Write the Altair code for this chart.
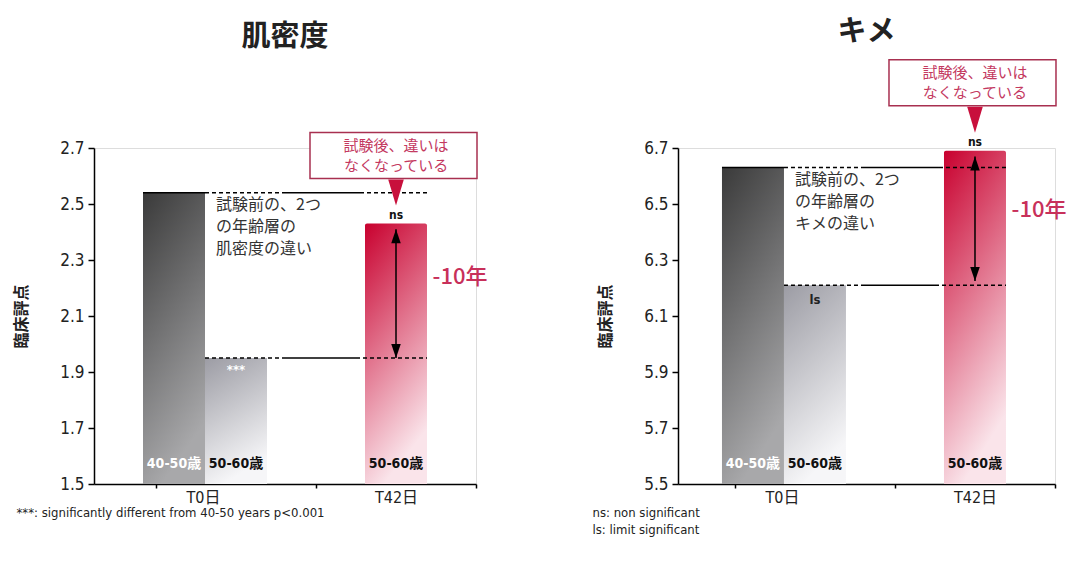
import altair as alt
import pandas as pd

# ---------------- data ----------------
panel_titles = ["肌密度", "キメ"]
days = ["T0日", "T0日", "T42日"]
ages = ["40-50歳", "50-60歳", "50-60歳"]
density_scores = [2.54, 1.95, 2.43]
texture_scores = [6.63, 6.21, 6.69]
density_marks = ["", "***", "ns"]
texture_marks = ["", "ls", "ns"]
density_ticks = [1.5, 1.7, 1.9, 2.1, 2.3, 2.5, 2.7]
texture_ticks = [5.5, 5.7, 5.9, 6.1, 6.3, 6.5, 6.7]
density_arrow = [2.41, 1.95]
texture_arrow = [6.67, 6.225]
density_years_y = 2.24
texture_years_y = 6.48
y_title = "臨床評点"
years_label = "-10年"
density_note = ["試験前の、2つ", "の年齢層の", "肌密度の違い"]
texture_note = ["試験前の、2つ", "の年齢層の", "キメの違い"]
callout_lines = ["試験後、違いは", "なくなっている"]
density_foot = ["***: significantly different from 40-50 years p<0.001"]
texture_foot = ["ns:  non significant", "ls:  limit significant"]

# ---------------- style ----------------
NARROW = "'Liberation Sans Narrow', 'DejaVu Sans Condensed', 'Liberation Sans', 'Noto Sans CJK JP', sans-serif"
CJK = "'Noto Sans CJK JP', sans-serif"
CRIMSON = "#c8305a"
BW = 62
H = 336


def grad(c0, c1):
    return alt.LinearGradient(
        gradient="linear",
        stops=[alt.GradientStop(color=c0, offset=0), alt.GradientStop(color=c1, offset=1)],
        x1=0, x2=0.3, y1=0, y2=1,
    )


bar_fills = [grad("#3a3a3a", "#a8a8aa"), grad("#9c9ca4", "#f6f6f8"), grad("#c8002e", "#fae4ea")]
bar_shift = [-BW, 0, 0]
bar_radius = [0, 0, 2]


def make_panel(title, scores, marks, ticks, arrow, years_y, note, foot, width,
               pad_outer, inside_color, inside_dy, foot_x, title_offset):
    df = pd.DataFrame({"day": days, "age": ages, "score": scores, "mark": marks})
    xscale = alt.Scale(domain=["T0日", "T42日"], paddingInner=0,
                       paddingOuter=pad_outer, align=1)
    yscale = alt.Scale(domain=[ticks[0], ticks[-1]], zero=False, nice=False)
    xaxis = alt.Axis(
        title=foot, titleAnchor="start", titleAlign="left", titleBaseline="top",
        titleX=foot_x, titleY=22, titleFont=NARROW, titleFontSize=13,
        titleFontWeight="normal", titleColor="#222", titleLineHeight=17,
        labelAngle=0, labelFont=NARROW, labelFontSize=16, labelColor="#222",
        labelPadding=1,
        labelOffset={"condition": {"test": "datum.value === 'T0日'", "value": -33}, "value": 0},
        tickBand="extent", tickExtra=False, tickSize=4, tickWidth=1.5,
        tickColor="black", domainColor="black", domainWidth=1.5,
    )
    yaxis = alt.Axis(
        values=ticks, format=".1f", title=y_title, titleFont=CJK, titleFontSize=16,
        titleFontWeight="bold", titleColor="#222", titlePadding=30,
        labelFont=NARROW, labelFontSize=17, labelColor="#222", labelPadding=4,
        tickSize=6, tickWidth=1.5, tickColor="black", domainColor="black",
        domainWidth=1.5, grid=False,
    )

    def X(**kw):
        return alt.X(scale=xscale, axis=xaxis, **kw)

    def Y(**kw):
        return alt.Y(scale=yscale, axis=yaxis, **kw)

    layers = []
    # bars
    for i in range(3):
        layers.append(
            alt.Chart(df.iloc[[i]]).mark_bar(width=BW, xOffset=bar_shift[i], color=bar_fills[i],
                                             cornerRadiusTopLeft=bar_radius[i],
                                             cornerRadiusTopRight=bar_radius[i])
            .encode(x=X(field="day", type="nominal"), y=Y(field="score", type="quantitative"),
                    y2=alt.Y2(datum=ticks[0]))
        )
    # age labels at bar foot
    for i in range(3):
        layers.append(
            alt.Chart(df.iloc[[i]]).mark_text(
                dx=bar_shift[i], dy=-20, fontSize=14, fontWeight="bold", font=NARROW,
                color="white" if i == 0 else "#111")
            .encode(x=X(field="day", type="nominal"), y=Y(datum=ticks[0]), text="age:N")
        )
    # significance marks
    layers.append(
        alt.Chart(df.iloc[[1]]).mark_text(dy=inside_dy, fontSize=13, fontWeight="bold",
                                         font=NARROW, color=inside_color)
        .encode(x=X(field="day", type="nominal"), y=Y(field="score", type="quantitative"), text="mark:N")
    )
    layers.append(
        alt.Chart(df.iloc[[2]]).mark_text(dy=-9, fontSize=12, fontWeight="bold",
                                         font=NARROW, color="#111")
        .encode(x=X(field="day", type="nominal"), y=Y(field="score", type="quantitative"), text="mark:N")
    )

    # reference lines
    def seg(yv, d0, o0, d1, o1, dash):
        m = dict(xOffset=o0, x2Offset=o1, strokeWidth=1.5, color="black")
        if dash:
            m["strokeDash"] = [4, 3]
        return alt.Chart(df.iloc[[0]]).mark_rule(**m).encode(
            x=X(datum=d0), x2=alt.X2(datum=d1), y=Y(datum=yv))

    top, low = scores[0], scores[1]
    layers += [
        seg(top, "T0日", -BW - BW / 2, "T0日", -BW / 2, False),
        seg(top, "T0日", -BW / 2, "T0日", 48, True),
        seg(top, "T0日", 48, "T42日", -36, False),
        seg(top, "T42日", -36, "T42日", BW / 2, True),
        seg(low, "T0日", -BW / 2, "T0日", 46, True),
        seg(low, "T0日", 46, "T42日", -40, False),
        seg(low, "T42日", -40, "T42日", BW / 2, True),
    ]

    # double arrow
    layers.append(
        alt.Chart(df.iloc[[2]]).mark_rule(strokeWidth=1.5, color="black")
        .encode(x=X(field="day", type="nominal"), y=Y(datum=arrow[0]), y2=alt.Y2(datum=arrow[1]))
    )
    layers.append(
        alt.Chart(df.iloc[[2]]).mark_point(shape="M0,0 L0.34,1 L-0.34,1 Z", size=784,
                                          filled=True, color="black", opacity=1)
        .encode(x=X(field="day", type="nominal"), y=Y(datum=arrow[0]))
    )
    layers.append(
        alt.Chart(df.iloc[[2]]).mark_point(shape="M0,0 L0.34,-1 L-0.34,-1 Z", size=784,
                                          filled=True, color="black", opacity=1)
        .encode(x=X(field="day", type="nominal"), y=Y(datum=arrow[1]))
    )
    # -10年
    layers.append(
        alt.Chart(df.iloc[[2]]).mark_text(dx=64, fontSize=22, font=CJK, color=CRIMSON, fontWeight=500)
        .encode(x=X(field="day", type="nominal"), y=Y(datum=years_y), text=alt.value(years_label))
    )
    # note about the age difference
    layers.append(
        alt.Chart(df.iloc[[0]]).mark_text(align="left", baseline="top", dx=-20, dy=4,
                                         lineHeight=22, fontSize=16, font=CJK, color="#333")
        .encode(x=X(field="day", type="nominal"), y=Y(datum=scores[0]), text=alt.value(note))
    )
    # callout box
    layers.append(
        alt.Chart(df.iloc[[2]]).mark_rect(xOffset=-86, x2Offset=81, yOffset=-91, y2Offset=-45,
                                         fill="white", stroke="#a83050", strokeWidth=1.5)
        .encode(x=X(field="day", type="nominal"), x2=alt.X2(field="day"),
                y=Y(field="score", type="quantitative"), y2=alt.Y2(field="score"))
    )
    layers.append(
        alt.Chart(df.iloc[[2]]).mark_text(dy=-78, lineHeight=20, fontSize=15, font=CJK, color="#c4395f")
        .encode(x=X(field="day", type="nominal"), y=Y(field="score", type="quantitative"),
                text=alt.value(callout_lines))
    )
    layers.append(
        alt.Chart(df.iloc[[2]]).mark_point(shape="M-0.6,-1 L0.6,-1 L0,1 Z", size=676, yOffset=-31,
                                          filled=True, color="#c8103c", opacity=1)
        .encode(x=X(field="day", type="nominal"), y=Y(field="score", type="quantitative"))
    )

    return alt.layer(*layers).properties(
        width=width, height=H,
        title=alt.TitleParams(text=title, font=CJK, fontSize=29, fontWeight="bold",
                              color="#222", frame="group", anchor="middle",
                              offset=title_offset),
    )


left = make_panel(panel_titles[0], density_scores, density_marks, density_ticks, density_arrow,
                  density_years_y, density_note, density_foot, 382, 0.19375, "white", 12, -78, 80)
right = make_panel(panel_titles[1], texture_scores, texture_marks, texture_ticks, texture_arrow,
                   texture_years_y, texture_note, texture_foot, 377, 0.178, "#222", 15, -86, 12)

chart = alt.hconcat(left, right, spacing=103).properties(
    padding={"left": 5, "top": 9, "right": 5, "bottom": 5}
).configure_view(stroke=None).configure(background="white")

chart.save("out.html", embed_options={"renderer": "svg", "actions": False})
